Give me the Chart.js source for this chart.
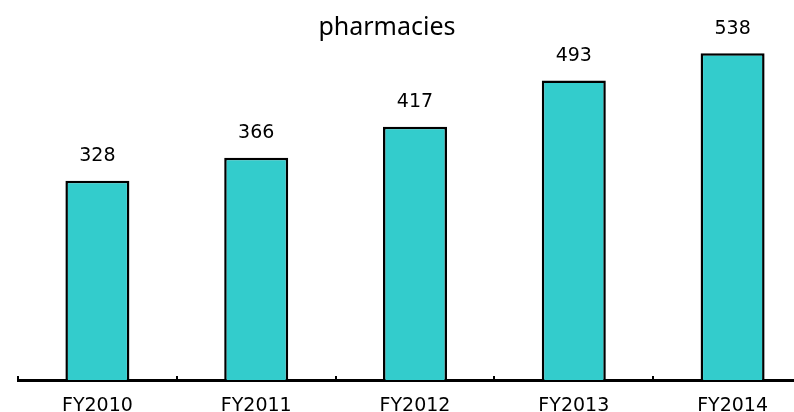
<!DOCTYPE html>
<html>
<head>
<meta charset="utf-8">
<script src="https://cdn.jsdelivr.net/npm/chart.js@4"></script>
<style>
  html, body { margin: 0; padding: 0; background: #fff; overflow: hidden; width: 794px; height: 412px; }
  #wrap { position: absolute; left: -38px; top: 0; width: 850px; height: 412px; }
</style>
</head>
<body>
<div id="wrap"><canvas id="c" width="850" height="412"></canvas></div>
<script>
const chartTitle = 'pharmacies';
const categories = ['FY2010', 'FY2011', 'FY2012', 'FY2013', 'FY2014'];
const pharmacies = [328, 366, 417, 493, 538];
const yMin = 0;
const yMax = 558;

const valueLabels = {
  id: 'valueLabels',
  afterDatasetsDraw(chart) {
    const ctx = chart.ctx;
    ctx.save();
    ctx.font = '19px "DejaVu Sans"';
    ctx.fillStyle = '#000';
    ctx.textAlign = 'center';
    ctx.textBaseline = 'middle';
    chart.data.datasets.forEach((ds, di) => {
      chart.getDatasetMeta(di).data.forEach((bar, i) => {
        ctx.fillText(String(ds.data[i]), bar.x, bar.y - 24.5);
      });
    });
    ctx.restore();
  }
};

new Chart(document.getElementById('c'), {
  type: 'bar',
  data: {
    labels: categories,
    datasets: [{
      label: chartTitle,
      data: pharmacies,
      backgroundColor: '#33CCCC',
      borderColor: '#000',
      borderWidth: 2.5,
      barPercentage: 0.403,
      categoryPercentage: 1
    }]
  },
  options: {
    responsive: false,
    animation: false,
    events: [],
    layout: { padding: 0 },
    plugins: {
      legend: { display: false },
      tooltip: { enabled: false },
      title: {
        display: true,
        text: chartTitle,
        color: '#000',
        font: { family: '"Noto Sans"', size: 25, weight: 'normal', lineHeight: 1.2 },
        padding: { top: 13, bottom: -2 }
      }
    },
    scales: {
      x: {
        offset: true,
        border: { display: true, color: '#000', width: 3 },
        grid: { display: true, drawOnChartArea: false, drawTicks: true, tickLength: -4, color: '#000', lineWidth: 2 },
        ticks: { color: '#000', padding: 23, font: { family: '"DejaVu Sans"', size: 19, lineHeight: '14px' }, maxRotation: 0, autoSkip: false },
        afterFit(s) { s.height = 32; }
      },
      y: {
        display: true,
        min: yMin,
        max: yMax,
        border: { display: false },
        grid: { display: false },
        ticks: { display: false },
        afterFit(s) { s.width = 56; }
      }
    }
  },
  plugins: [valueLabels]
});
</script>
</body>
</html>
